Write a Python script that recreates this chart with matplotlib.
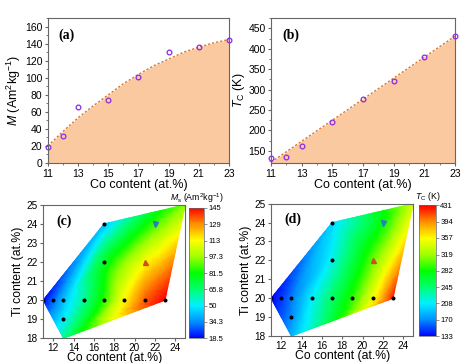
import numpy as np
import matplotlib
matplotlib.use("Agg")
import matplotlib.pyplot as plt
import matplotlib.tri as mtri
from matplotlib.colors import LinearSegmentedColormap, Normalize
from matplotlib.ticker import MultipleLocator

plt.rcParams['font.family'] = ['Liberation Sans', 'DejaVu Sans']
plt.rcParams['mathtext.fontset'] = 'custom'
plt.rcParams['mathtext.rm'] = 'Liberation Sans'
plt.rcParams['mathtext.it'] = 'Liberation Sans:italic'
plt.rcParams['mathtext.bf'] = 'Liberation Sans:bold'

# ---------------- data ----------------
co = [11, 12, 13, 15, 17, 19, 21, 23]
M_vals = [19, 32, 66, 74, 101, 130, 136, 144]
Tc_vals = [133, 135, 161, 220, 277, 322, 379, 431]

fit_co = [11, 12, 13, 14, 15, 16, 17, 18, 19, 20, 21, 22, 23]
M_fit = [20, 37, 53, 67, 80, 93, 104, 114, 122, 130, 136, 141, 145]
Tc_fit_co = [11, 23]
Tc_fit = [122, 431]

map_co = [11, 12, 13, 15, 17, 19, 21, 23, 13, 13, 17, 17, 21, 22, 25]
map_ti = [20, 20, 20, 20, 20, 20, 20, 20, 19, 18, 22, 24, 22, 24, 25]
Ms_map = [18.5, 30, 42, 62, 86, 114, 134, 145, 50, 62, 76, 42, 112, 88, 95]
Tc_map = [133, 148, 165, 208, 248, 292, 352, 425, 172, 185, 215, 198, 305, 282, 338]

dot_co = [11, 12, 13, 15, 17, 19, 21, 23, 13, 17, 17]
dot_ti = [20, 20, 20, 20, 20, 20, 20, 20, 19, 22, 24]
tri_up = (21, 22)
tri_down = (22, 24)

Ms_ticks = [18.5, 34.3, 50, 65.8, 81.5, 97.3, 113, 129, 145]
Tc_ticks = [133, 170, 208, 245, 282, 319, 357, 394, 431]

cmap = LinearSegmentedColormap.from_list(
    'rb', ['#0000ff', '#0090ff', '#00f0ff', '#00ff70', '#00ff00', '#a0ff00',
           '#ffff00', '#ff9000', '#ff0000'])

fill_c = '#fbc9a0'
line_c = '#d9782d'
mark_c = '#8a2be2'
spine_c = '#666666'

fig = plt.figure(figsize=(4.74, 3.63), dpi=100)

def style(ax, ls=7.5):
    for s in ax.spines.values():
        s.set_color(spine_c)
        s.set_linewidth(0.8)
    ax.tick_params(which='both', direction='out', color=spine_c, labelsize=ls, pad=1.5)
    ax.tick_params(which='major', length=2.5)
    ax.tick_params(which='minor', length=1.5)

# (a)
axa = fig.add_axes([0.101, 0.551, 0.382, 0.399])
axa.fill_between(fit_co, 0, M_fit, color=fill_c, lw=0)
axa.plot(fit_co, M_fit, color=line_c, ls=(0, (1.6, 1.4)), lw=1)
axa.plot(co, M_vals, 'o', mfc='none', mec=mark_c, ms=3.4, mew=0.9, clip_on=False)
axa.set_xlim(11, 23)
axa.set_ylim(0, 170)
axa.set_xticks([11, 13, 15, 17, 19, 21, 23])
axa.xaxis.set_minor_locator(MultipleLocator(1))
axa.set_yticks(range(0, 161, 20))
axa.yaxis.set_minor_locator(MultipleLocator(10))
style(axa)
axa.set_xlabel('Co content (at.%)', fontsize=9, labelpad=0)
axa.set_ylabel(r'$M$ (Am$^2$kg$^{-1}$)', fontsize=9, labelpad=1)
axa.text(0.06, 0.93, '(a)', transform=axa.transAxes, fontsize=10, fontweight='bold',
         family='Liberation Serif', va='top')

# (b)
axb = fig.add_axes([0.572, 0.551, 0.388, 0.399])
axb.fill_between(Tc_fit_co, 0, Tc_fit, color=fill_c, lw=0)
axb.plot(Tc_fit_co, Tc_fit, color=line_c, ls=(0, (1.6, 1.4)), lw=1)
axb.plot(co, Tc_vals, 'o', mfc='none', mec=mark_c, ms=3.4, mew=0.9, clip_on=False)
axb.set_xlim(11, 23)
axb.set_ylim(120, 475)
axb.set_xticks([11, 13, 15, 17, 19, 21, 23])
axb.xaxis.set_minor_locator(MultipleLocator(1))
axb.set_yticks(range(150, 451, 50))
axb.yaxis.set_minor_locator(MultipleLocator(25))
style(axb)
axb.set_xlabel('Co content (at.%)', fontsize=9, labelpad=0)
axb.set_ylabel(r'$T_{\rm C}$ (K)', fontsize=9, labelpad=1)
axb.text(0.06, 0.93, '(b)', transform=axb.transAxes, fontsize=10, fontweight='bold',
         family='Liberation Serif', va='top')

# maps
tri = mtri.Triangulation(np.array(map_co, float), np.array(map_ti, float))
refiner = mtri.UniformTriRefiner(tri)

def draw_map(rect, crect, vals, ticks, label, title):
    ax = fig.add_axes(rect)
    z = np.array(vals, float)
    interp = mtri.CubicTriInterpolator(tri, z, kind='geom')
    rt, rz = refiner.refine_field(z, interp, subdiv=4)
    rz = np.clip(rz, ticks[0], ticks[-1])
    norm = Normalize(ticks[0], ticks[-1])
    pc = ax.tripcolor(rt, rz, shading='gouraud', cmap=cmap, norm=norm)
    ax.plot(dot_co, dot_ti, 'o', color='black', ms=1.9, ls='none')
    ax.plot(*tri_up, '^', color='#d0501c', ms=3.6, ls='none')
    ax.plot(*tri_down, 'v', color='#2a7fc0', ms=3.6, ls='none')
    ax.set_xlim(11, 25)
    ax.set_ylim(18, 25)
    ax.set_xticks(range(12, 25, 2))
    ax.set_yticks(range(18, 26))
    style(ax, 7.2)
    ax.tick_params(axis='x', pad=1)
    ax.set_xlabel('Co content (at.%)', fontsize=8.8, labelpad=-0.5)
    ax.set_ylabel('Ti content (at.%)', fontsize=8.8, labelpad=2)
    ax.text(0.09, 0.93, label, transform=ax.transAxes, fontsize=10, fontweight='bold',
            family='Liberation Serif', va='top')
    cax = fig.add_axes(crect)
    cb = fig.colorbar(pc, cax=cax, ticks=ticks)
    cb.ax.set_yticklabels([f'{t:g}' for t in ticks])
    cb.ax.tick_params(labelsize=5.5, length=2, width=0.5, pad=1, color=spine_c)
    cb.outline.set_linewidth(0.5)
    cb.outline.set_edgecolor(spine_c)
    cax.set_title(title, fontsize=6.3, pad=5)
    return ax

draw_map([0.091, 0.068, 0.300, 0.368], [0.399, 0.068, 0.032, 0.360],
         Ms_map, Ms_ticks, '(c)', r'$M_{\rm s}$ (Am$^2$kg$^{-1}$)')
draw_map([0.572, 0.074, 0.300, 0.365], [0.884, 0.074, 0.036, 0.360],
         Tc_map, Tc_ticks, '(d)', r'$T_{\rm C}$ (K)')

fig.savefig('out.png', dpi=100)
